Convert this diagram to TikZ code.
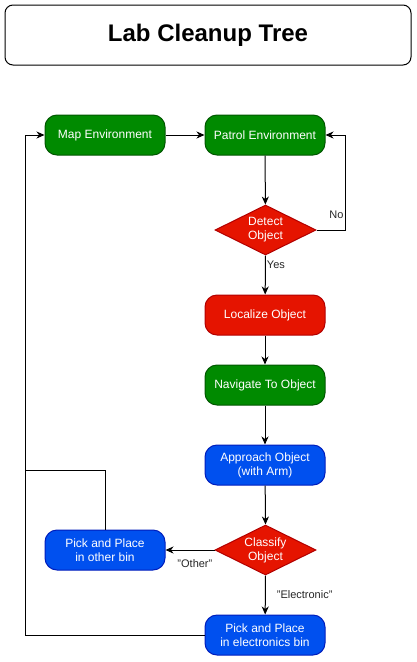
\documentclass[tikz,border=0pt]{standalone}
\usepackage{fontspec}
\setmainfont{Liberation Sans}
\usetikzlibrary{shapes.geometric,arrows.meta}

\definecolor{stepgreen}{HTML}{008A00}
\definecolor{stepgreenline}{HTML}{005700}
\definecolor{stepred}{HTML}{E51400}
\definecolor{stepredline}{HTML}{B20000}
\definecolor{stepblue}{HTML}{0050EF}
\definecolor{stepblueline}{HTML}{001DBC}

\begin{document}
\begin{tikzpicture}[x=1pt,y=-1pt,
  >={Stealth[length=8pt,width=7pt,inset=2.5pt]},
  every path/.style={line width=1pt},
  stepbox/.style={rectangle, rounded corners=12pt, minimum width=120pt,
    minimum height=40pt, align=center, text=white, inner sep=2pt,
    font=\fontsize{12}{14}\selectfont},
  greenbox/.style={stepbox, fill=stepgreen, draw=stepgreenline},
  redbox/.style={stepbox, fill=stepred, draw=stepredline},
  bluebox/.style={stepbox, fill=stepblue, draw=stepblueline},
  choice/.style={diamond, aspect=2, minimum width=101pt, minimum height=50pt,
    inner sep=0pt, align=center, text=white, fill=stepred, draw=stepredline,
    font=\fontsize{12}{14}\selectfont},
  lbl/.style={font=\fontsize{11}{13}\selectfont, text=black!85, inner sep=1pt}]
  \useasboundingbox (0,0) rectangle (416,662);

  % 1. Title
  \node[draw, rounded corners=8pt, minimum width=406pt, minimum height=60pt,
    font=\fontsize{24}{28}\selectfont\bfseries] (title) at (208,35) {Lab Cleanup Tree};

  % 2. The steps, placed at fixed coordinates
  \node[greenbox] (map) at (105,135) {Map Environment};
  \node[greenbox] (patrol) at (265,135) {Patrol Environment};
  \node[choice] (detect) at (265.5,230) {Detect\\Object};
  \node[redbox] (localize) at (265,315) {Localize Object};
  \node[greenbox] (navigate) at (265,385) {Navigate To Object};
  \node[bluebox] (approach) at (265,465) {Approach Object\\(with Arm)};
  \node[choice] (classify) at (265.5,550) {Classify\\Object};
  \node[bluebox] (other) at (105,550) {Pick and Place\\in other bin};
  \node[bluebox] (elec) at (265,635) {Pick and Place\\in electronics bin};

  % 3. Main flow
  \draw[->] (map) -- (patrol);
  \draw[->] (patrol) -- (detect);
  \draw[->] (detect.east) -- (345,230) -- node[lbl, pos=0.16, left] {No} (345,135) -- (patrol.east);
  \draw[->] (detect.south) -- node[lbl, pos=0.25, right] {Yes} (localize);
  \draw[->] (localize) -- (navigate);
  \draw[->] (navigate) -- (approach);
  \draw[->] (approach) -- (classify.north);

  % 4. Branches after classification
  \draw[->] (classify.west) -- node[lbl, pos=0.4, below, yshift=-8pt] {"Other"} (other.east);
  \draw[->] (classify.south) -- node[lbl, pos=0.5, right, xshift=10pt] {"Electronic"} (elec);

  % 5. Loop back to mapping
  \draw[->] (elec.west) -- (25,635) -- (25,135) -- (map.west);
  \draw (other.north) -- (105,470) -- (25,470);
\end{tikzpicture}
\end{document}
